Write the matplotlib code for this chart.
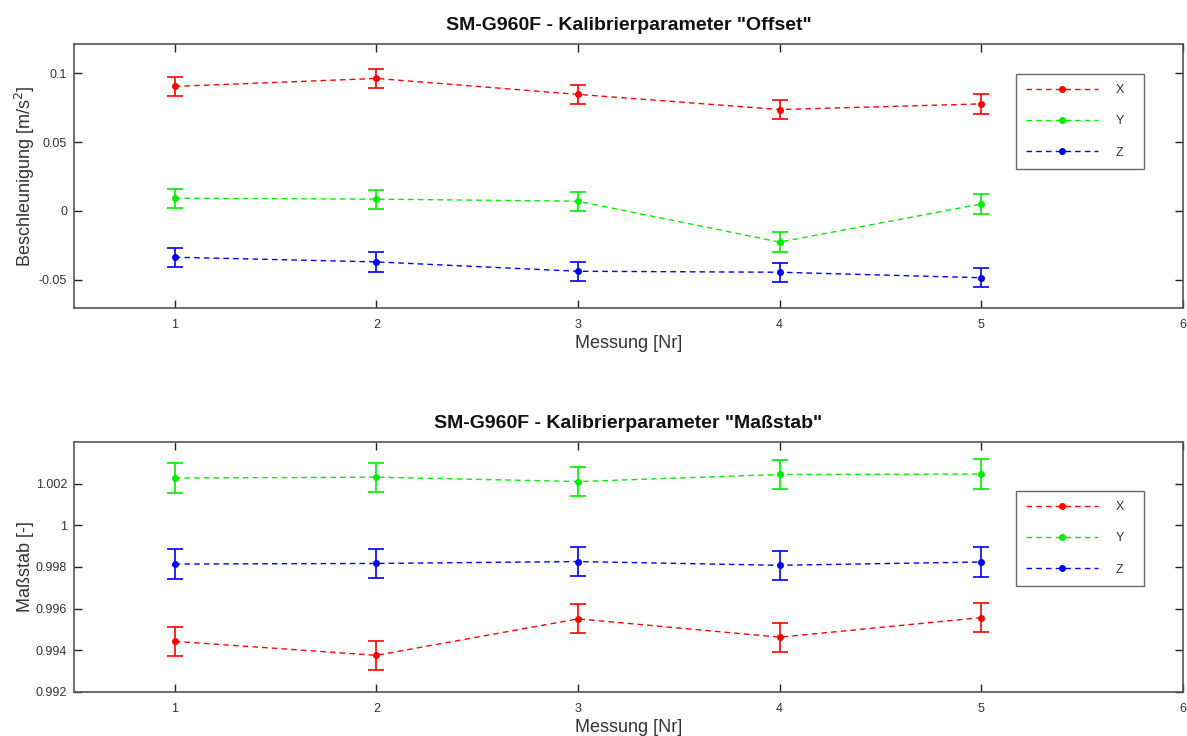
import matplotlib
matplotlib.use("Agg")
import matplotlib.pyplot as plt
from matplotlib.lines import Line2D

messung = [1, 2, 3, 4, 5]

# Offset [m/s^2]
offset_x = [0.0905, 0.0963, 0.0847, 0.0737, 0.0778]
offset_y = [0.0093, 0.0086, 0.0071, -0.0226, 0.0051]
offset_z = [-0.0336, -0.0370, -0.0438, -0.0445, -0.0485]
offset_err = [0.007, 0.007, 0.007]

# Massstab [-]
scale_x = [0.99443, 0.99376, 0.99551, 0.99463, 0.99557]
scale_y = [1.00227, 1.00231, 1.00210, 1.00244, 1.00246]
scale_z = [0.99814, 0.99817, 0.99826, 0.99808, 0.99824]
scale_err = [0.0007, 0.0007, 0.0007]

labels = ["X", "Y", "Z"]
colors = ["#ff0000", "#00ee00", "#0000ff"]
text_color = "#333333"

plt.rcParams['font.family'] = ['Liberation Sans', 'DejaVu Sans']

fig = plt.figure(figsize=(11.87, 7.36), dpi=100)
ax1 = fig.add_axes([0.0623, 0.5815, 0.9343, 0.3585])
ax2 = fig.add_axes([0.0623, 0.0598, 0.9343, 0.3397])


def draw_panel(ax, series, errs, title, ylabel, ylim, yticks, yticklabels, legend_bbox):
    handles = []
    for vals, err, lab, col in zip(series, errs, labels, colors):
        ax.errorbar(messung, vals, yerr=err, color=col, linestyle='--', linewidth=1,
                    marker='o', markersize=4, capsize=6, elinewidth=1.2,
                    capthick=1.2, dashes=(4, 3))
        # trailing spaces give the legend box its extra right margin
        handles.append(Line2D([], [], color=col, linestyle='--', linewidth=1,
                              dashes=(4, 3), marker='o', markersize=4,
                              label=lab + "   "))
    ax.set_xlim(0.5, 6)
    ax.set_ylim(*ylim)
    ax.set_xticks([1, 2, 3, 4, 5, 6])
    ax.set_yticks(yticks)
    ax.set_yticklabels(yticklabels)
    ax.tick_params(direction='in', top=True, right=True, length=6, width=1,
                   labelsize=9, colors='#222222', labelcolor=text_color)
    ax.tick_params(axis='x', pad=8)
    ax.tick_params(axis='y', pad=5)
    for s in ax.spines.values():
        s.set_color('#555555')
        s.set_linewidth(1.2)
    ax.set_title(title, fontsize=14, fontweight='bold', color='#111111', pad=10)
    ax.set_xlabel("Messung [Nr]", fontsize=13, color=text_color, labelpad=3)
    ax.set_ylabel(ylabel, fontsize=13, color=text_color, labelpad=1)
    leg = ax.legend(handles=handles, loc='upper left', bbox_to_anchor=legend_bbox,
                    fontsize=9, handlelength=5.8, labelspacing=1.55, borderpad=0.8,
                    handletextpad=1.4, fancybox=False, borderaxespad=0)
    leg.get_frame().set_edgecolor('#444444')
    leg.get_frame().set_linewidth(1.0)
    for t in leg.get_texts():
        t.set_color(text_color)


draw_panel(ax1, [offset_x, offset_y, offset_z], offset_err,
           'SM-G960F - Kalibrierparameter "Offset"',
           r'Beschleunigung [m/s$^2$]', (-0.0705, 0.1212),
           [-0.05, 0, 0.05, 0.1], ['-0.05', '0', '0.05', '0.1'], (0.849, 0.887))

draw_panel(ax2, [scale_x, scale_y, scale_z], scale_err,
           'SM-G960F - Kalibrierparameter "Maßstab"',
           'Maßstab [-]', (0.992, 1.004),
           [0.992, 0.994, 0.996, 0.998, 1.0, 1.002],
           ['0.992', '0.994', '0.996', '0.998', '1', '1.002'], (0.849, 0.804))

fig.savefig("out.png", dpi=100)
